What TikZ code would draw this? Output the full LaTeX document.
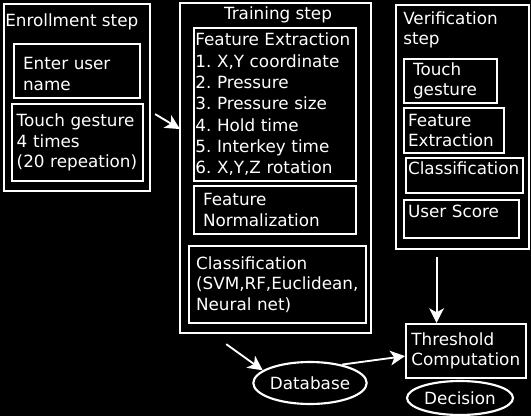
\documentclass[tikz,border=0pt]{standalone}
\usepackage{fontspec}
\setmainfont{DejaVu Sans}
\frenchspacing
\usetikzlibrary{arrows.meta,shapes.geometric}
\begin{document}
\begin{tikzpicture}[x=0.75pt,y=-0.75pt,
    flow/.style={draw=white, line width=1.4pt, -{Stealth[width=11pt,length=11pt,inset=3pt]}}]
      \tikzset{every node/.style={text=white, font=\fontsize{12.6}{15.25}\selectfont},
        stage/.style n args={2}{draw=white, line width=1.6pt, anchor=north west, inner sep=0pt,
          minimum width=#1, minimum height=#2},
        cell/.style n args={4}{draw=white, line width=1.6pt, anchor=north west, align=left,
          inner ysep=0pt, minimum width=#1, minimum height=#2, inner xsep=#3, text width=#4},
        store/.style n args={2}{draw=white, line width=1.6pt, ellipse, inner sep=0pt,
          minimum width=#1, minimum height=#2}}
      \fill[black] (0,0) rectangle (531,416);
      \useasboundingbox (0,0) rectangle (531,416);
      \node[stage={109.5pt}{140.25pt}] (enroll) at (3,3) {};
      \node[stage={143.25pt}{247.5pt}] (train) at (179,2) {};
      \node[stage={99.75pt}{183pt}] (verif) at (395,4) {};
      \node[anchor=base west, inner sep=0pt] (enrollTitle) at (5,27) {Enrollment step};
      \node[anchor=base, inner sep=0pt] (trainTitle) at (278,20) {Training step};
      \node[anchor=north west, inner sep=0pt, align=left] (verifTitle) at (403,11) {Verification\\step};
      \node[cell={94.5pt}{40.5pt}{6.75pt}{81pt}, text depth=11pt] (user) at (13,43) {Enter user\\name};
      \node[cell={98.25pt}{57.75pt}{3.5pt}{91.25pt}] (touch) at (11,103) {Touch gesture\\4 times\\(20 repeation)};
      \node[cell={121.5pt}{114.75pt}{1pt}{119.5pt}, font=\fontsize{12.6}{16}\selectfont] (featExt) at (193,27)
        {Feature Extraction\\1. X,Y coordinate\\2. Pressure\\3. Pressure size\\4. Hold time\\5. Interkey time\\6. X,Y,Z rotation};
      \node[cell={121.5pt}{36pt}{6.75pt}{108pt}] (featNorm) at (193,185) {Feature\\Normalization};
      \node[cell={132.75pt}{57.75pt}{5.25pt}{122.25pt}] (classif) at (188,245) {Classification\\(SVM,RF,Euclidean,\\Neural net)};
      \node[cell={69.75pt}{33pt}{6.75pt}{56.25pt}] (vTouch) at (403,58) {Touch\\gesture};
      \node[cell={75pt}{33.75pt}{3pt}{69pt}] (vFeat) at (403,107) {Feature\\Extraction};
      \node[cell={87.75pt}{26.25pt}{1.5pt}{84.75pt}, text depth=11pt] (vClass) at (405,157) {Classification};
      \node[cell={86.25pt}{28.5pt}{3pt}{80.25pt}, text depth=11pt] (vScore) at (403,199) {User Score};
      \node[cell={90pt}{40.5pt}{4pt}{82pt}] (thresh) at (405,323) {Threshold\\Computation};
      \node[store={70.5pt}{31.5pt}] (db) at (310,383) {Database};
      \node[store={79.5pt}{25.5pt}] (decision) at (460,398) {Decision};
      \draw[flow] ([xshift=3pt,yshift=-12.4pt]enroll.east) -- ([xshift=0.75pt,yshift=29.25pt]train.west);
      \draw[flow] ([xshift=-19.5pt,yshift=-5pt]verif.south) coordinate (vDrop) -- (vDrop |- thresh.north);
      \draw[flow] ([xshift=-37pt,yshift=-7.5pt]train.south) -- (db.165);
      \draw[flow] (db.30) -- ([yshift=-3.75pt]thresh.west);
    \end{tikzpicture}
\end{document}
